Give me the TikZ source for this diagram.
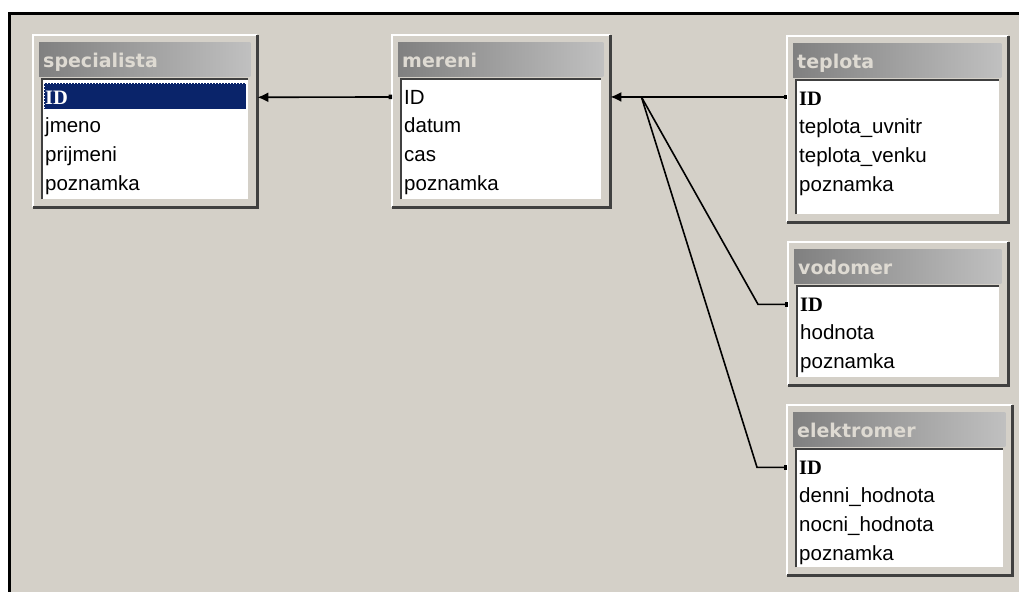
\documentclass[tikz,border=0pt]{standalone}
\usepackage{fontspec}
\setmainfont{Liberation Sans}
\newfontfamily\titlefont{DejaVu Sans}
\newfontfamily\keyfont{Liberation Serif}
\usepackage{tikz}
\usetikzlibrary{arrows.meta, positioning, calc}
\definecolor{dbback}{HTML}{D4D0C8}
\definecolor{dbtext}{HTML}{DEDAD2}
\definecolor{dbdark}{HTML}{404040}
\definecolor{dbgray}{HTML}{808080}
\definecolor{dblight}{HTML}{C0C0C0}
\definecolor{dbnavy}{HTML}{0A246A}

\begin{document}
\begin{tikzpicture}[x=1pt, y=-1pt,
  tablebox/.style={draw=none, fill=dbback, inner sep=0pt},
  titletext/.style={font=\titlefont\bfseries\fontsize{19}{22}\selectfont, text=dbtext, inner sep=0pt, anchor=base west},
  field/.style={font=\fontsize{20.5}{22}\selectfont, inner sep=0pt, anchor=base west},
  keyfield/.style={font=\keyfont\bfseries\fontsize{20.5}{22}\selectfont},
  link/.style={draw=black, line width=1.6pt},
  rel/.style={link, {Latex[length=11pt,width=10pt]}-{Square[length=3.5pt,width=4.5pt]}},
  branch/.style={link, -{Square[length=3.5pt,width=4.5pt]}}]
\useasboundingbox (0,0) rectangle (1019,592);
% Window
\fill[white] (0,0) rectangle (1019,592);
\fill[dbback] (8,12) rectangle (1019,592);
\fill[black] (8,12) rectangle (1019,15);
\fill[black] (8,12) rectangle (11,592);
% Tables
\foreach \n/\x/\y/\w/\h/\t in {spec/33/35/224/172/specialista,
    mereni/392/35/218/172/mereni, teplota/787/36/221/186/teplota,
    vodomer/788/242/220/143/vodomer, elektro/787/405/225/170/elektromer} {
  \node[tablebox, minimum width=\w pt, minimum height=\h pt, anchor=north west] (\n) at (\x,\y) {};
  \draw[white, line width=2pt] (\n.south west) -- (\n.north west) -- (\n.north east);
  \draw[dbdark, line width=2.5pt] (\n.north east) -- (\n.south east) -- (\n.south west);
  \shade[left color=dbgray, right color=dblight] ($(\n.north west)+(6,7)$) rectangle ($(\n.north east)+(-7,41)$);
  \node[titletext] (\n-title) at ($(\n.north west)+(10,32)$) {\t};
  \fill[white] ($(\n.north west)+(8,43)$) rectangle ($(\n.south east)+(-9,-8)$);
  \draw[dbdark, line width=2pt] ($(\n.south west)+(9,-8)$) |- ($(\n.north east)+(-9,44)$);
}
% specialista
\fill[dbnavy] ($(spec.north west)+(11,48)$) rectangle ($(spec.north east)+(-11,74)$);
\draw[white, dotted, line width=1pt] ($(spec.north west)+(11,48)$) rectangle ($(spec.north east)+(-11,74)$);
\node[field, keyfield, text=white] (spec-ID) at ($(spec.north west)+(12,69)$) {ID};
\foreach \f [count=\i] in {jmeno, prijmeni, poznamka}
  \node[field] (spec-f\i) at ($(spec.north west)+(12,69+28.8*\i)$) {\f};
% mereni
\node[field] (mereni-ID) at ($(mereni.north west)+(12,69)$) {ID};
\foreach \f [count=\i] in {datum, cas, poznamka}
  \node[field] (mereni-f\i) at ($(mereni.north west)+(12,69+28.8*\i)$) {\f};
% teplota
\node[field, keyfield] (teplota-ID) at ($(teplota.north west)+(12,69)$) {ID};
\foreach \f [count=\i] in {teplota\_uvnitr, teplota\_venku, poznamka}
  \node[field] (teplota-f\i) at ($(teplota.north west)+(12,69+28.8*\i)$) {\f};
% vodomer
\node[field, keyfield] (vodomer-ID) at ($(vodomer.north west)+(12,69)$) {ID};
\foreach \f [count=\i] in {hodnota, poznamka}
  \node[field] (vodomer-f\i) at ($(vodomer.north west)+(12,69+28.8*\i)$) {\f};
% elektromer
\node[field, keyfield] (elektro-ID) at ($(elektro.north west)+(12,69)$) {ID};
\foreach \f [count=\i] in {denni\_hodnota, nocni\_hodnota, poznamka}
  \node[field] (elektro-f\i) at ($(elektro.north west)+(12,69+28.8*\i)$) {\f};
% Relations
\draw[rel] (spec.east |- spec-ID) -- (mereni.west |- mereni-ID);
\draw[rel] (mereni.east |- mereni-ID) -- (teplota.west |- mereni-ID);
\coordinate (fork) at ($(mereni.east |- mereni-ID)+(31,0)$);
\draw[branch] (fork) -- ($(vodomer.west |- vodomer-ID)+(-30,0)$) -- (vodomer.west |- vodomer-ID);
\draw[branch] (fork) -- ($(elektro.west |- elektro-ID)+(-30,0)$) -- (elektro.west |- elektro-ID);
\end{tikzpicture}
\end{document}
